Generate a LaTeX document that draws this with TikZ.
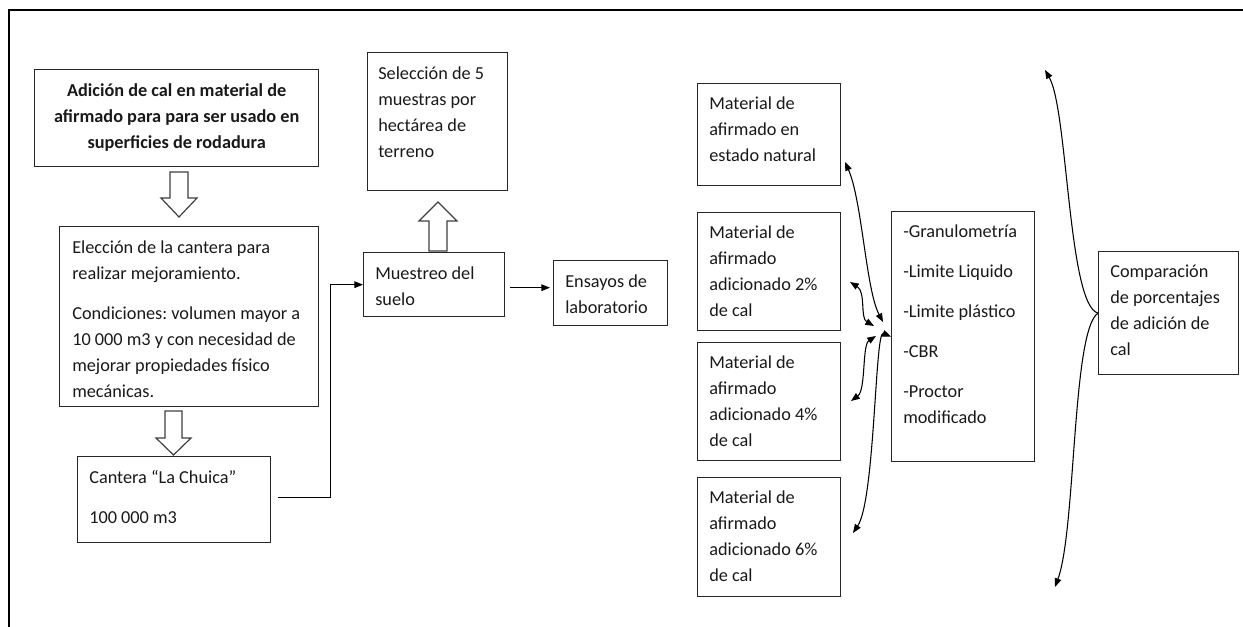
\documentclass[tikz,border=0pt]{standalone}
\usepackage{fontspec}
\setmainfont{Carlito}
\frenchspacing
\usetikzlibrary{arrows.meta,calc}

\tikzset{
  box/.style 2 args={draw=black!85, line width=1pt, inner sep=0pt, anchor=north west,
    minimum width=#1*0.75pt, minimum height=#2*0.75pt},
  txt/.style={anchor=north west, align=left, inner sep=0pt, text=black!90,
    font=\fontsize{13.7}{19.5}\selectfont},
  conn/.style={line width=0.8pt, -{Triangle[length=6.5pt,width=5pt]}},
  both/.style={line width=0.8pt, {Triangle[length=6.5pt,width=5pt]}-{Triangle[length=6.5pt,width=5pt]}},
  hollow/.style={draw=black!75, line width=0.9pt, fill=white},
}

\begin{document}
\begin{tikzpicture}[x=0.75pt,y=0.75pt,yscale=-1,xscale=1]
\useasboundingbox (0,0) rectangle (1243,627);

%Frame
\draw [line width=1.5pt] (9,627) -- (9,10) -- (1243,10) ;

%Boxes
\node [box={284}{97}] (title) at (34,69) {};
\node [box={259}{180}] (elec) at (59,226) {};
\node [box={193}{86}] (cant) at (77,456) {};
\node [box={140}{138}] (sel) at (367,52) {};
\node [box={141}{64}] (mues) at (363,252) {};
\node [box={114}{65}] (ens) at (553,260) {};
\node [box={143}{102}] (mat1) at (697,83) {};
\node [box={143}{118}] (mat2) at (697,212) {};
\node [box={143}{118}] (mat3) at (697,342) {};
\node [box={143}{119}] (mat4) at (697,477) {};
\node [box={143}{250}] (prue) at (891,211) {};
\node [box={140}{123}] (comp) at (1098,251) {};

% Text Nodes
\node [txt, anchor=north, align=center, font=\fontsize{13.7}{19.5}\selectfont\bfseries] (title-t) at ($(title.north)+(0,9)$)
  {\strut Adición de cal en material de\\ afirmado para para ser usado en\\ superficies de rodadura};
\node [txt] (elec-t) at ($(elec.north west)+(13,9)$)
  {\strut Elección de la cantera para\\ realizar mejoramiento.\\[10.5pt] Condiciones: volumen mayor a\\ 10 000 m3 y con necesidad de\\ mejorar propiedades físico\\ mecánicas.};
\node [txt] (cant-t) at ($(cant.north west)+(12,9)$)
  {\strut Cantera “La Chuica”\\[10.5pt] 100 000 m3};
\node [txt] (sel-t) at ($(sel.north west)+(11,9)$)
  {\strut Selección de 5\\ muestras por\\ hectárea de\\ terreno};
\node [txt] (mues-t) at ($(mues.north west)+(12,9)$)
  {\strut Muestreo del\\ suelo};
\node [txt] (ens-t) at ($(ens.north west)+(12,9)$)
  {\strut Ensayos de\\ laboratorio};
\node [txt] (mat1-t) at ($(mat1.north west)+(12,8)$)
  {\strut Material de\\ afirmado en\\ estado natural};
\node [txt] (mat2-t) at ($(mat2.north west)+(12,8)$)
  {\strut Material de\\ afirmado\\ adicionado 2\%\\ de cal};
\node [txt] (mat3-t) at ($(mat3.north west)+(12,8)$)
  {\strut Material de\\ afirmado\\ adicionado 4\%\\ de cal};
\node [txt] (mat4-t) at ($(mat4.north west)+(12,8)$)
  {\strut Material de\\ afirmado\\ adicionado 6\%\\ de cal};
\node [txt] (prue-t) at ($(prue.north west)+(12,8)$)
  {\strut -Granulometría\\[10.5pt] -Limite Liquido\\[10.5pt] -Limite plástico\\[10.5pt] -CBR\\[10.5pt] -Proctor\\ modificado};
\node [txt] (comp-t) at ($(comp.north west)+(12,8)$)
  {\strut Comparación\\ de porcentajes\\ de adición de\\ cal};

%Block arrows
\draw [hollow] (170,172) -- (188,172) -- (188,198) -- (197,198) -- (179,217) -- (161,198) -- (170,198) -- cycle ;
\draw [hollow] (165,411) -- (182,411) -- (182,438) -- (191,438) -- (173.5,455) -- (156,438) -- (165,438) -- cycle ;
\draw [hollow] (429,251) -- (447,251) -- (447,221) -- (457,221) -- (438,202) -- (419,221) -- (429,221) -- cycle ;

%Straight connectors
\draw [conn] ($(cant.east)+(7,-2)$) -- ($(cant.east)+(59,-2)$) |- (mues.west) ;
\draw [conn] ($(mues.east)+(5,3)$) -- ($(mues.east -| ens.west)+(-3,3)$) ;

%Curved connectors
\coordinate (m1) at (845,162);
\coordinate (m2) at (850,282);
\coordinate (m3) at (851,401);
\coordinate (m4) at (853,533);
\coordinate (up) at (1045,70);
\coordinate (down) at (1055,587);
\draw [both] (m1) .. controls (862,200) and (866,290) .. (883,322) ;
\draw [both] (m2) .. controls (866,292) and (860,318) .. (874,326) ;
\draw [both] (876,336) .. controls (862,345) and (866,390) .. (m3) ;
\draw [both] (prue.west) .. controls (875,330) and (875,500) .. (m4) ;
\draw [conn] (comp.west) .. controls (1068,305) and (1068,110) .. (up) ;
\draw [conn] (comp.west) .. controls (1072,330) and (1076,530) .. (down) ;

\end{tikzpicture}
\end{document}
